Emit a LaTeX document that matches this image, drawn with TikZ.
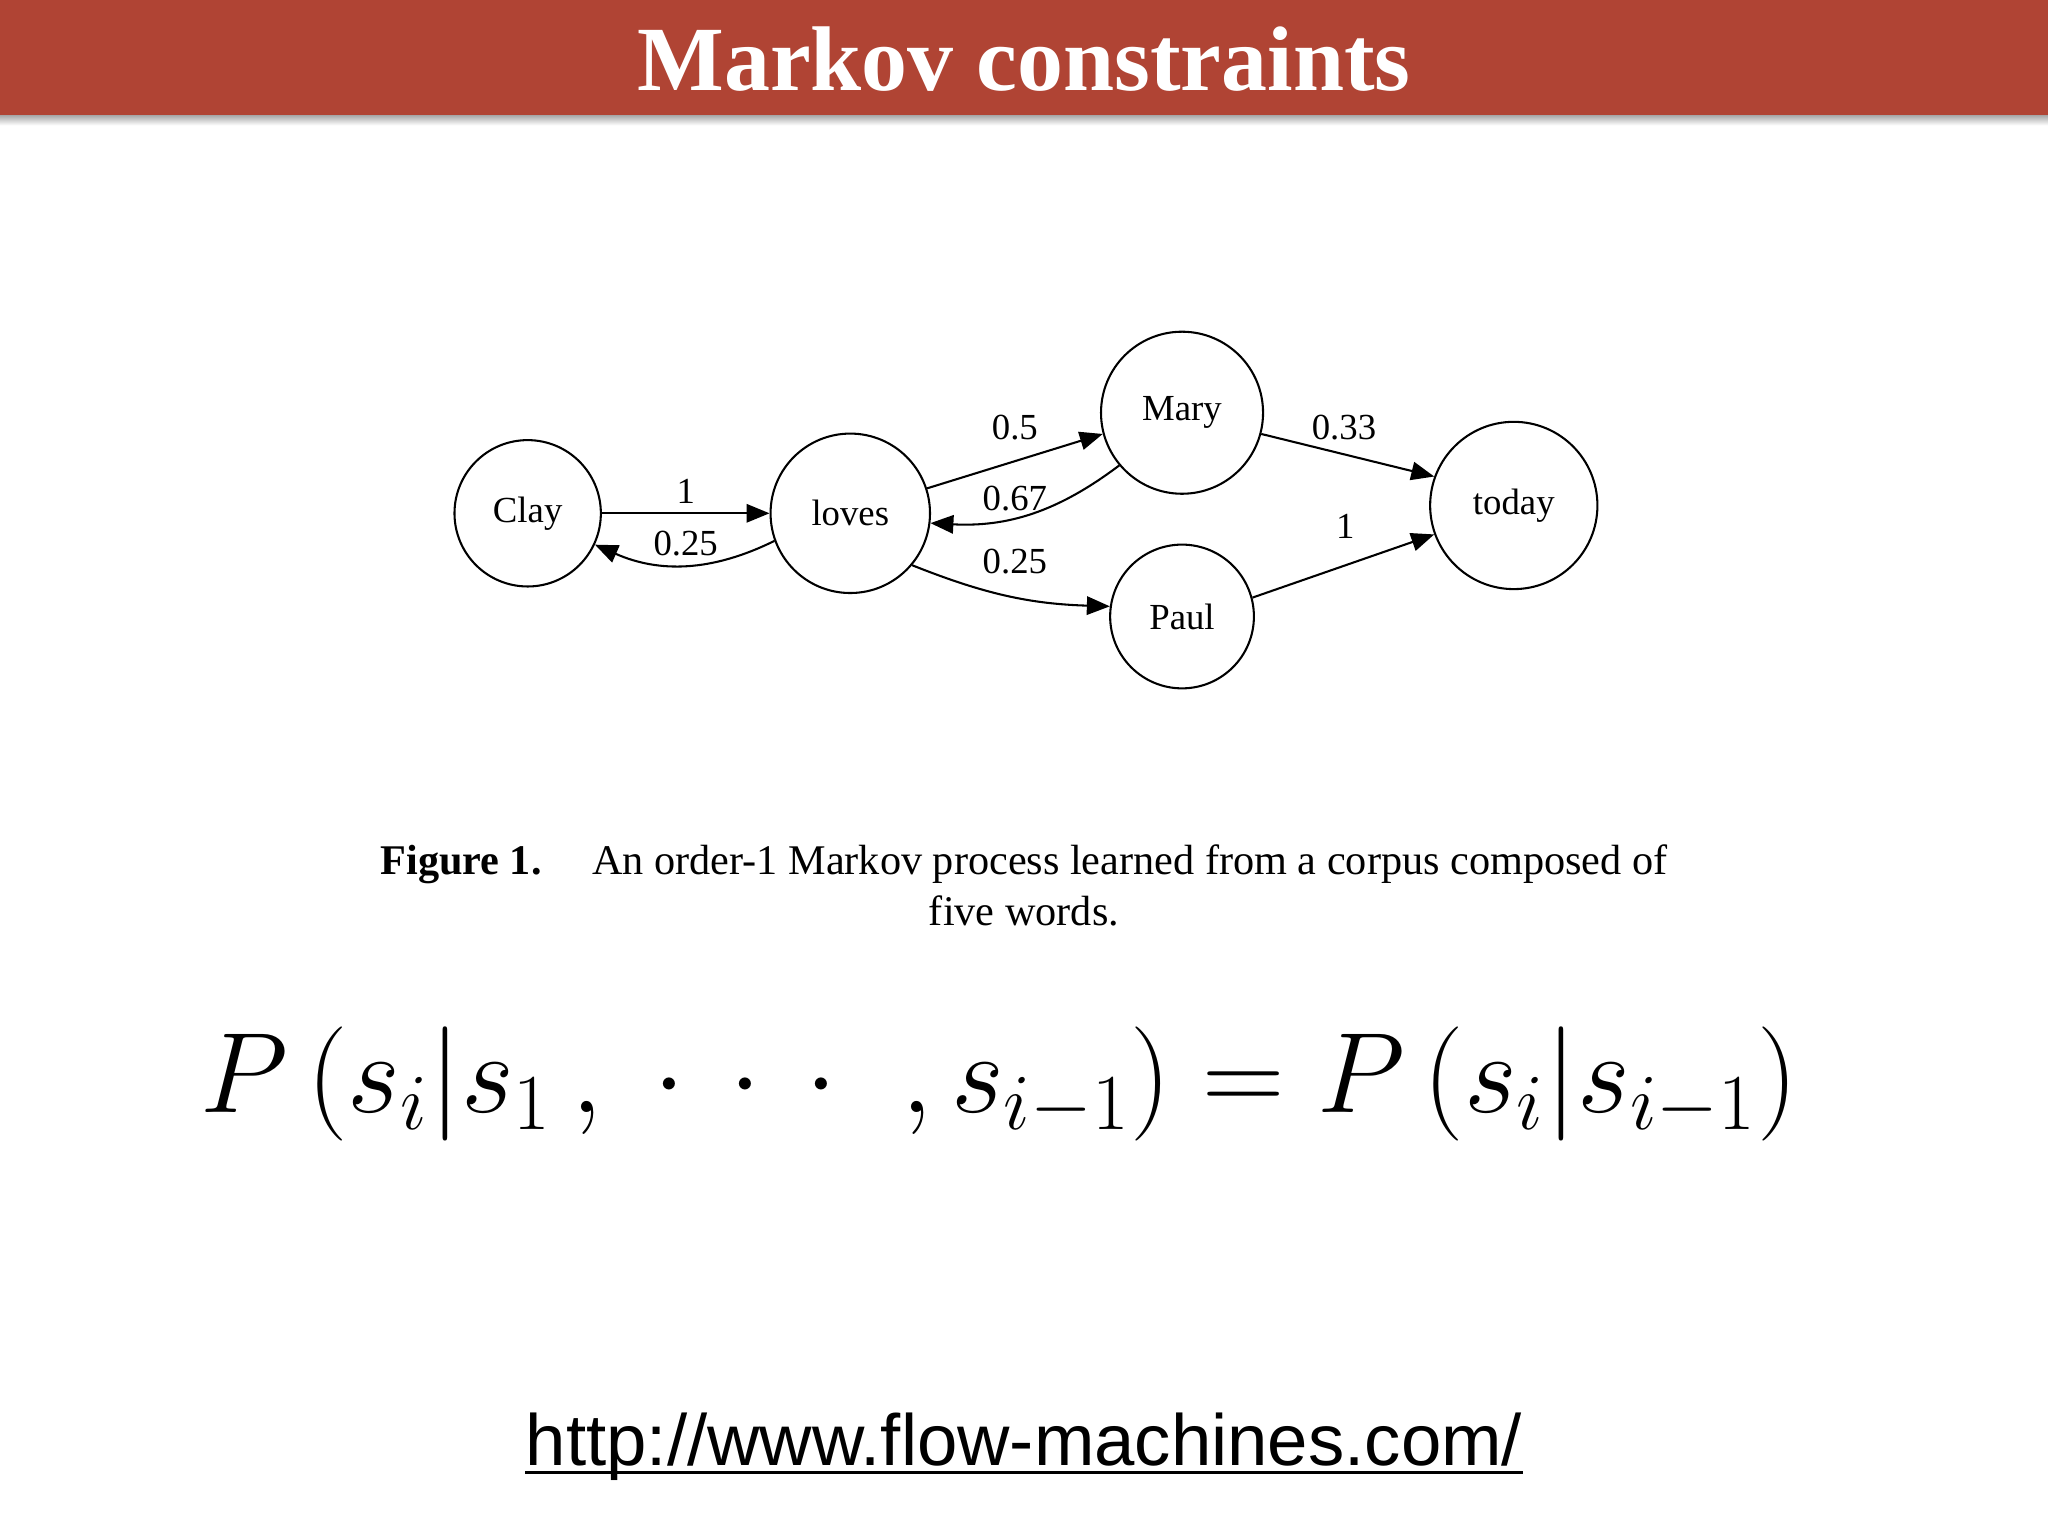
\documentclass[tikz,border=0pt]{standalone}
\usepackage{fontspec}
\usepackage{amsmath}
\setmainfont{Liberation Serif}
\newfontfamily\urlfont{Liberation Sans}
\usetikzlibrary{arrows.meta}
\definecolor{hdr}{RGB}{176,68,52}
\begin{document}
\begin{tikzpicture}[x=0.01cm,y=-0.01cm,
  st/.style={circle,draw,line width=0.45pt,inner sep=0pt,font=\fontsize{8}{10}\selectfont},
  ed/.style={line width=0.45pt,-{Triangle[length=5pt,width=4pt]}},
  lb/.style={font=\fontsize{8}{10}\selectfont,inner sep=0pt}]
\useasboundingbox (0,0) rectangle (1568,1176);
\fill[white] (0,0) rectangle (1568,1176);
\shade[top color=black!35,bottom color=white] (0,88) rectangle (1568,96);
\fill[hdr] (0,0) rectangle (1568,88);
\node[text=white,font=\fontsize{20}{24}\selectfont\bfseries] (title) at (784,45) {Markov constraints};
\node[st,minimum size=1.12cm] (clay) at (404,393) {Clay};
\node[st,minimum size=1.22cm] (loves) at (651,393) {loves};
\node[st,minimum size=1.24cm] (mary) at (905,316) {Mary};
\node[st,minimum size=1.10cm] (paul) at (905,472) {Paul};
\node[st,minimum size=1.28cm] (today) at (1159,387) {today};
\draw[ed] (clay.east) -- (loves.west);
\draw[ed] (loves.-160) to[bend left=25] (clay.-25);
\draw[ed] (loves.18) -- (mary.-165);
\draw[ed] (mary.-140) to[bend left=20] (loves.-7);
\draw[ed] (loves.-40) to[bend right=10] (paul.172);
\draw[ed] (mary.-15) -- (today.160);
\draw[ed] (paul.15) -- (today.-160);
\node[lb] (l1) at (525,376) {1};
\node[lb] (l2) at (525,416) {0.25};
\node[lb] (l3) at (777,327) {0.5};
\node[lb] (l4) at (777,382) {0.67};
\node[lb] (l5) at (777,430) {0.25};
\node[lb] (l6) at (1029,327) {0.33};
\node[lb] (l7) at (1030,403) {1};
\node[font=\fontsize{9.2}{11}\selectfont,align=center,inner sep=0pt] (cap) at (784,678)
 {\textbf{Figure 1.}\hspace{1.2em}An order-1 Markov process learned from a corpus composed of\\five words.};
\node[inner sep=0pt,font=\fontsize{25}{30}\selectfont] (eq) at (765,830)
 {$P\,(s_i|s_1\,,\;\cdot\,\cdot\,\cdot\;\;,s_{i-1})=P\,(s_i|s_{i-1})$};
\node[font=\urlfont\fontsize{15.8}{18}\selectfont,inner sep=0pt,anchor=base] (url) at (784,1122)
 {http://www.flow-machines.com/};
\draw[line width=0.6pt] ([yshift=-1.6pt]url.base west) -- ([yshift=-1.6pt]url.base east);
\end{tikzpicture}
\end{document}
